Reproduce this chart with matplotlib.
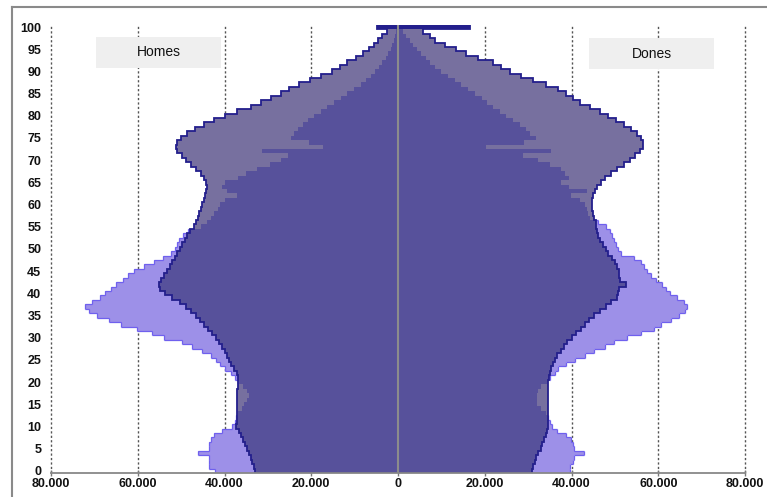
import numpy as np
import matplotlib
matplotlib.use("Agg")
import matplotlib.pyplot as plt
from matplotlib.collections import LineCollection
from matplotlib.patches import Rectangle

plt.rcParams['font.family'] = ['Liberation Sans', 'DejaVu Sans']

ages = list(range(0, 101))

# Homes (left) - series with smooth profile (navy outline)
homes_a = [33000, 33300, 33600, 34000, 34400, 34800, 35200, 35700, 36200, 36700,
           37300, 37200, 37100, 37100, 37100, 37150, 37150, 37150, 37100, 37000,
           36900, 37000, 37200, 37800, 38400, 38950, 39500, 40000, 40600, 41300,
           42000, 42900, 43800, 44700, 45700, 46600, 47800, 48900, 50300, 52000,
           53800, 54800, 55200, 54600, 53900, 53200, 52600, 52000, 51500, 50900,
           50200, 49800, 49200, 48600, 48000, 47000, 46500, 46000, 45800, 45500,
           45200, 44800, 44400, 44200, 44000, 44300, 44800, 45500, 46500, 47790,
           48940, 49860, 50870, 51250, 50870, 50100, 48560, 46800, 44720, 42410,
           39880, 37040, 33950, 31650, 29340, 27040, 25120, 22820, 20350, 17820,
           15130, 13440, 11680, 9610, 8070, 6680, 5460, 4530, 3610, 2460, 4840]
# Homes (left) - series with irregular profile
homes_b = [42200, 43500, 43500, 43500, 46100, 43500, 43500, 43000, 42400, 40600,
           38300, 37600, 37300, 36800, 36000, 35400, 34800, 34300, 34800, 35800,
           37000, 37500, 38500, 39800, 41000, 42000, 43200, 45100, 47400, 49700,
           53900, 56600, 60100, 63900, 66600, 69300, 71200, 72100, 70500, 68700,
           67500, 66200, 65000, 63300, 62200, 60850, 58500, 56200, 54200, 52400,
           51500, 51000, 50400, 49500, 48500, 45500, 44000, 43000, 42500, 41500,
           41000, 40000, 37100, 39500, 40500, 40000, 37000, 35000, 32500, 29500,
           27000, 25300, 31270, 17300, 20500, 24740, 24000, 22980, 21900, 20670,
           19360, 17820, 16290, 14750, 13220, 11680, 10140, 8600, 7450, 6300,
           5300, 4380, 3610, 2840, 2230, 1690, 1300, 920, 690, 460, 800]
# Dones (right)
dones_a = [30810, 31120, 31500, 31880, 32340, 32890, 33270, 33650, 34040, 34420,
           34650, 34650, 34500, 34500, 34500, 34500, 34500, 34500, 34500, 34550,
           34650, 34800, 35040, 35340, 35730, 36120, 36730, 37500, 38270, 39030,
           40030, 40960, 42110, 43110, 44030, 45180, 46490, 47870, 49030, 50560,
           50800, 51000, 52600, 51200, 51000, 50940, 50400, 49950, 49250, 48480,
           47870, 47260, 46560, 46180, 45950, 45720, 45570, 45260, 45030, 44800,
           44640, 44800, 44950, 45340, 45950, 46720, 47720, 49030, 50560, 52100,
           53400, 54560, 55710, 56470, 56470, 56090, 55170, 53790, 52100, 50330,
           48410, 46490, 44180, 41880, 40340, 38800, 36880, 34190, 31120, 28430,
           25740, 23820, 21900, 18440, 15750, 13450, 10760, 8610, 7300, 5760, 16520]
dones_b = [39650, 39650, 40340, 40570, 42870, 40570, 40340, 39800, 38650, 36730,
           35570, 34960, 34650, 34040, 32890, 32120, 31970, 32120, 32270, 33040,
           34300, 34960, 36120, 36880, 38800, 40730, 43110, 45180, 47720, 49800,
           52870, 55940, 59010, 60550, 62850, 64770, 66150, 66690, 65920, 64390,
           62630, 61800, 60940, 59500, 58240, 57470, 56800, 56000, 54500, 51500,
           50800, 50300, 49800, 49300, 48800, 47870, 46000, 44300, 43800, 43500,
           43000, 42000, 39800, 43500, 39500, 37500, 39500, 38500, 37500, 35000,
           32270, 28810, 35340, 20350, 29000, 31880, 30350, 29580, 28050, 26510,
           24970, 23440, 21900, 20590, 19360, 17670, 16130, 14600, 13060, 11520,
           9990, 8450, 7450, 6530, 5380, 4460, 3460, 2690, 1920, 1150, 3000]

xticks = [-80000, -60000, -40000, -20000, 0, 20000, 40000, 60000, 80000]
xticklabels = ['80.000', '60.000', '40.000', '20.000', '0', '20.000', '40.000', '60.000', '80.000']
yticks = list(range(0, 101, 5))
side_labels = ['Homes', 'Dones']

LIGHT = '#9d90e8'
GRAY = '#77709f'
DARK = '#57519b'
NAVY = '#231f8c'
LEDGE = '#6f60ee'

fig = plt.figure(figsize=(7.67, 4.97), dpi=100)
W, H = 767, 497
ax = fig.add_axes([51 / W, (497 - 473) / H, (745 - 51) / W, (473 - 24.8) / H])

y = np.array(ages, dtype=float)


def step_path(vals, sign):
    xs, ys = [0.0], [-0.5]
    for a, v in zip(ages, vals):
        xs += [sign * v, sign * v]
        ys += [a - 0.5, a + 0.5]
    xs.append(0.0)
    ys.append(ages[-1] + 0.5)
    return xs, ys


for sign, A, B in [(-1, homes_a, homes_b), (1, dones_a, dones_b)]:
    A = np.array(A, dtype=float)
    B = np.array(B, dtype=float)
    ax.barh(y, sign * B, height=1.0, color=LIGHT, lw=0, zorder=2)
    gcol = [GRAY] * (len(ages) - 1) + [NAVY]
    ax.barh(y, sign * A, height=1.0, color=gcol, lw=0, zorder=3)
    ax.barh(y[:-1], sign * np.minimum(A, B)[:-1], height=1.0, color=DARK, lw=0, zorder=4)
    # outline of the light series where it lies outside
    segs = []
    for i in range(len(ages)):
        if B[i] > A[i]:
            segs.append([(sign * B[i], ages[i] - 0.5), (sign * B[i], ages[i] + 0.5)])
        if i + 1 < len(ages):
            inner = max(A[i], A[i + 1])
            lo, hi = sorted([B[i], B[i + 1]])
            lo = max(lo, inner)
            if hi > lo:
                segs.append([(sign * lo, ages[i] + 0.5), (sign * hi, ages[i] + 0.5)])
    ax.add_collection(LineCollection(segs, colors=LEDGE, linewidths=0.9, zorder=5))
    xs, ys = step_path(A, sign)
    ax.plot(xs, ys, color=NAVY, lw=1.3, zorder=6, solid_joinstyle='miter')

# gridlines
for xv in xticks:
    if xv != 0:
        ax.axvline(xv, color='#555555', lw=1.0, linestyle=(0, (1.6, 1.6)), zorder=1,
                   clip_on=False)
ax.axvline(0, color='#8c8c8c', lw=1.5, zorder=7)

ax.set_xlim(-80000, 80000)
ax.set_ylim(-0.5, 100.5)
ax.set_xticks(xticks)
ax.set_xticklabels(xticklabels, fontsize=9, color='#111111', fontweight='bold')
ax.set_yticks(yticks)
ax.set_yticklabels([str(v) for v in yticks], fontsize=9, color='#111111', fontweight='bold')
ax.tick_params(axis='y', length=0, pad=7)
ax.tick_params(axis='x', direction='inout', length=5, width=1, color='#777777', pad=1)
for s in ['top', 'right', 'left']:
    ax.spines[s].set_visible(False)
ax.spines['bottom'].set_color('#888888')
ax.spines['bottom'].set_linewidth(1.3)
ax.spines['bottom'].set_zorder(8)

# side label boxes (figure pixel coordinates)
for lab, (x0, y0, x1, y1) in zip(side_labels, [(96, 37, 221, 68), (589, 38, 714, 69)]):
    fig.patches.append(Rectangle((x0 / W, 1 - y1 / H), (x1 - x0) / W, (y1 - y0) / H,
                                 transform=fig.transFigure, facecolor='#efefef',
                                 edgecolor='none', zorder=3))
    fig.text((x0 + x1) / 2 / W, 1 - (y0 + y1) / 2 / H, lab, ha='center', va='center',
             fontsize=10, color='#111111', zorder=4)

# outer frame
fig.add_artist(plt.Line2D([12 / W, 1], [1 - 7 / H, 1 - 7 / H], transform=fig.transFigure,
                          color='#8a8a8a', lw=1.5))
fig.add_artist(plt.Line2D([12 / W, 12 / W], [0, 1 - 7 / H], transform=fig.transFigure,
                          color='#8a8a8a', lw=1.5))

fig.savefig('out.png', dpi=100)
